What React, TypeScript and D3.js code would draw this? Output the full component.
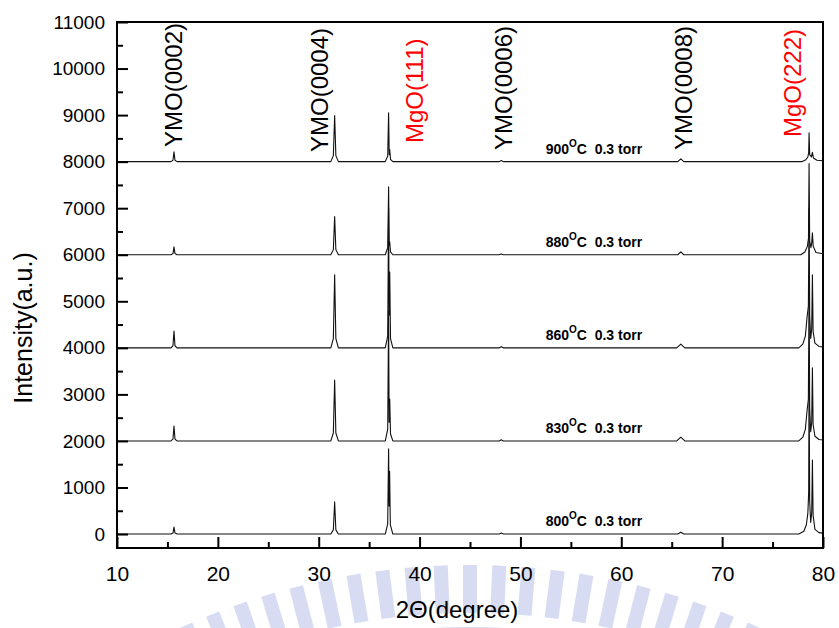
import React, { useEffect, useRef } from "react";
import * as d3 from "d3";

// sample growth temperatures, each scan is shifted up by its offset
const temps = ["800", "830", "860", "880", "900"];
const offsets = [0, 2000, 4000, 6000, 8000];

// 2theta (deg), counts above the scan's own baseline
const scan800 = [
  [10, 0], [15.35, 0], [15.55, 20], [15.65, 150], [15.75, 20], [15.95, 0],
  [31.2, 0], [31.45, 90], [31.58, 690], [31.7, 90], [31.95, 0],
  [36.6, 0], [36.84, 220], [36.93, 1830], [36.98, 600], [37.03, 1350], [37.1, 200], [37.35, 0],
  [47.9, 0], [48.1, 20], [48.3, 0],
  [65.6, 0], [65.9, 40], [66.2, 0],
  [77.6, 0], [78.1, 60], [78.35, 200], [78.5, 450], [78.58, 900], [78.62, 3400], [78.68, 700],
  [78.78, 250], [78.88, 450], [78.95, 1590], [79.02, 400], [79.2, 100], [79.6, 30], [80, 20],
];
const scan830 = [
  [10, 0], [15.35, 0], [15.55, 40], [15.65, 320], [15.75, 40], [15.95, 0],
  [31.2, 0], [31.45, 170], [31.58, 1310], [31.7, 170], [31.95, 0],
  [36.6, 0], [36.84, 250], [36.93, 2800], [36.98, 400], [37.04, 900], [37.12, 150], [37.35, 0],
  [47.9, 0], [48.1, 25], [48.3, 0],
  [65.5, 0], [65.9, 80], [66.3, 0],
  [77.6, 0], [78.0, 80], [78.25, 250], [78.42, 650], [78.55, 900], [78.62, 3300], [78.68, 700],
  [78.78, 200], [78.88, 400], [78.95, 1570], [79.02, 350], [79.2, 100], [79.6, 30], [80, 20],
];
const scan860 = [
  [10, 0], [15.35, 0], [15.55, 45], [15.65, 360], [15.75, 45], [15.95, 0],
  [31.2, 0], [31.45, 200], [31.58, 1570], [31.7, 200], [31.95, 0],
  [36.6, 0], [36.84, 250], [36.93, 3000], [36.98, 700], [37.04, 1630], [37.12, 200], [37.35, 0],
  [47.9, 0], [48.1, 25], [48.3, 0],
  [65.5, 0], [65.9, 80], [66.3, 0],
  [77.6, 0], [78.0, 80], [78.25, 250], [78.42, 660], [78.55, 900], [78.62, 3000], [78.68, 700],
  [78.78, 200], [78.88, 400], [78.95, 1570], [79.02, 350], [79.2, 100], [79.6, 30], [80, 20],
];
const scan880 = [
  [10, 0], [15.35, 0], [15.55, 25], [15.65, 170], [15.75, 25], [15.95, 0],
  [31.2, 0], [31.45, 110], [31.58, 820], [31.7, 110], [31.95, 0],
  [36.6, 0], [36.84, 150], [36.93, 1460], [36.99, 200], [37.04, 280], [37.12, 60], [37.35, 0],
  [47.9, 0], [48.1, 15], [48.3, 0],
  [65.6, 0], [65.9, 60], [66.2, 0],
  [77.8, 0], [78.2, 60], [78.45, 180], [78.56, 350], [78.62, 1960], [78.68, 300],
  [78.8, 150], [78.88, 250], [78.95, 470], [79.03, 180], [79.3, 50], [80, 20],
];
const scan900 = [
  [10, 0], [15.35, 0], [15.55, 30], [15.65, 210], [15.75, 30], [15.95, 0],
  [31.2, 0], [31.45, 130], [31.58, 990], [31.7, 130], [31.95, 0],
  [36.6, 0], [36.84, 120], [36.93, 1050], [36.99, 150], [37.04, 260], [37.12, 50], [37.35, 0],
  [47.9, 0], [48.1, 25], [48.3, 0],
  [65.6, 0], [65.9, 60], [66.2, 0],
  [77.9, 0], [78.3, 40], [78.5, 100], [78.58, 200], [78.62, 620], [78.68, 150],
  [78.85, 100], [78.95, 200], [79.05, 80], [79.4, 30], [80, 20],
];
const scans = [scan800, scan830, scan860, scan880, scan900];

// reflection labels and where they sit along 2theta
const peakNames = ["YMO(0002)", "YMO(0004)", "MgO(111)", "YMO(0006)", "YMO(0008)", "MgO(222)"];
const peakAt = [15.6, 30.0, 39.4, 48.3, 66.1, 76.9];
const peakColors = ["black", "black", "red", "black", "black", "red"];
const labelBottom = [147, 152, 143, 150, 150, 137];

const xTicks = [10, 20, 30, 40, 50, 60, 70, 80];
const xMinor = [15, 25, 35, 45, 55, 65, 75];
const yTicks = [0, 1000, 2000, 3000, 4000, 5000, 6000, 7000, 8000, 9000, 10000, 11000];
const yMinor = [500, 1500, 2500, 3500, 4500, 5500, 6500, 7500, 8500, 9500, 10500];

const W = 839;
const H = 628;
const FONT = "Arial, 'Liberation Sans', sans-serif";

const XrdChart = () => {
  const ref = useRef(null);

  useEffect(() => {
    const svg = d3.select(ref.current);
    svg.selectAll("*").remove();

    const x = d3.scaleLinear().domain([10, 80]).range([117, 823]);
    const y = d3.scaleLinear().domain([-300, 11000]).range([548, 22]);

    svg.append("rect").attr("width", W).attr("height", H).attr("fill", "white");

    // faint scanned-page watermark behind the bottom axis
    const wm = svg.append("g").attr("opacity", 0.35);
    const cx = 470;
    const cy = 1264;
    const r = 699;
    d3.range(-24, 25, 2.4).forEach((a) => {
      wm.append("rect")
        .attr("x", -7)
        .attr("y", -r)
        .attr("width", 14)
        .attr("height", 48)
        .attr("fill", "#8f9ddc")
        .attr("transform", `translate(${cx},${cy}) rotate(${a})`);
    });
    wm.append("path")
      .attr(
        "d",
        d3.arc()({ innerRadius: r - 110, outerRadius: r - 62, startAngle: -0.43, endAngle: 0.43 })
      )
      .attr("fill", "#8f9ddc")
      .attr("transform", `translate(${cx},${cy})`);

    // scans
    const line = d3
      .line()
      .x((d) => x(d[0]))
      .y((d) => y(d[1]));

    scans.forEach((scan, i) => {
      svg
        .append("path")
        .attr("d", line(scan.map((p) => [p[0], p[1] + offsets[i]])))
        .attr("fill", "none")
        .attr("stroke", "#111")
        .attr("stroke-width", 1.1)
        .attr("stroke-linejoin", "round");
    });

    // axes, ticks point inward
    const xAxis = svg
      .append("g")
      .attr("transform", `translate(0,${548})`)
      .call(d3.axisBottom(x).tickValues(xTicks).tickSize(-11).tickPadding(18));
    svg
      .append("g")
      .attr("transform", `translate(0,${548})`)
      .call(d3.axisBottom(x).tickValues(xMinor).tickSize(-6).tickFormat(() => ""));
    const yAxis = svg
      .append("g")
      .attr("transform", `translate(${117},0)`)
      .call(
        d3.axisLeft(y).tickValues(yTicks).tickSize(-11).tickPadding(12).tickFormat(d3.format("d"))
      );
    svg
      .append("g")
      .attr("transform", `translate(${117},0)`)
      .call(d3.axisLeft(y).tickValues(yMinor).tickSize(-6).tickFormat(() => ""));

    svg.selectAll(".domain").remove();
    svg.selectAll(".tick line").attr("stroke", "black").attr("stroke-width", 2);
    xAxis.selectAll("text").style("font-family", FONT).style("font-size", "21px").attr("fill", "black");
    yAxis.selectAll("text").style("font-family", FONT).style("font-size", "19px").attr("fill", "black");

    // frame
    svg
      .append("rect")
      .attr("x", x(10))
      .attr("y", y(11000))
      .attr("width", x(80) - x(10))
      .attr("height", y(-300) - y(11000))
      .attr("fill", "none")
      .attr("stroke", "black")
      .attr("stroke-width", 2);

    // axis titles
    svg
      .append("text")
      .attr("x", 457)
      .attr("y", 618)
      .attr("text-anchor", "middle")
      .style("font-family", FONT)
      .style("font-size", "24px")
      .text("2Θ(degree)");

    svg
      .append("text")
      .attr("transform", "translate(32,328) rotate(-90)")
      .attr("text-anchor", "middle")
      .style("font-family", FONT)
      .style("font-size", "25px")
      .text("Intensity(a.u.)");

    // reflection labels
    peakNames.forEach((name, i) => {
      svg
        .append("text")
        .attr("transform", `translate(${x(peakAt[i]) + 9},${labelBottom[i]}) rotate(-90)`)
        .attr("text-anchor", "start")
        .attr("fill", peakColors[i])
        .style("font-family", FONT)
        .style("font-size", "24px")
        .text(name);
    });

    // growth condition notes
    temps.forEach((t, i) => {
      const txt = svg
        .append("text")
        .attr("x", x(52.5))
        .attr("y", y(offsets[i]) - 8)
        .style("font-family", FONT)
        .style("font-size", "14px")
        .style("font-weight", "bold")
        .style("white-space", "pre");
      txt.append("tspan").text(t);
      txt.append("tspan").attr("dy", -7).style("font-size", "10px").text("O");
      txt.append("tspan").attr("dy", 7).text("C  0.3 torr");
    });
  }, []);

  return <svg ref={ref} width={W} height={H} style={{ display: "block" }} />;
};

export default function App() {
  return (
    <div style={{ position: "absolute", left: 0, top: 0, width: W, height: H }}>
      <XrdChart />
    </div>
  );
}
